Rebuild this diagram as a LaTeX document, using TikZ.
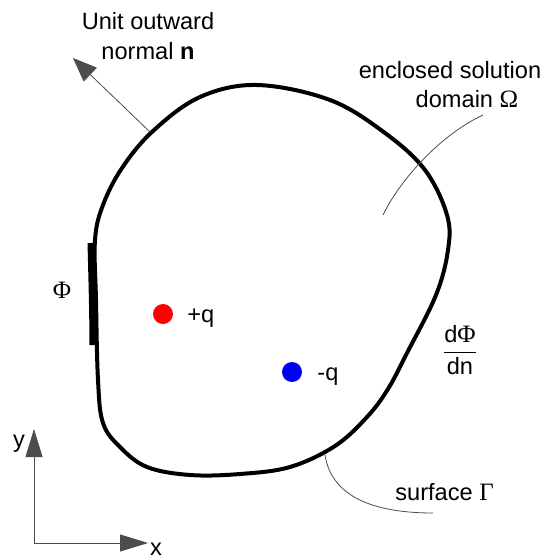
\documentclass[tikz,border=0pt]{standalone}
\usepackage{fontspec}
\setmainfont{Liberation Sans}
\newfontfamily\grkfont{Liberation Serif}
\usetikzlibrary{arrows.meta}

\newcommand\grk[1]{{\grkfont\fontsize{12.5}{15}\selectfont #1}}

\begin{document}
\begin{tikzpicture}[x=0.5pt,y=-0.5pt,
  lbl/.style={font=\fontsize{11.8}{15}\selectfont,inner sep=0pt},
  leader/.style={draw=black!70,line width=0.4pt},
  boundary/.style={line width=2pt},
  charge/.style={circle,inner sep=0pt,minimum size=10pt}]
  \useasboundingbox (0,0) rectangle (547,558);
  % surface of the domain
  \draw[boundary] plot[smooth cycle,tension=0.6] coordinates {
    (95,240) (103,205) (122,168) (153,131) (200,97) (257,85) (330,100)
    (385,133) (425,170) (447,215) (448,250) (436,295) (407,353) (388,389)
    (367,417) (335,446) (290,467) (240,474) (190,475) (147,467) (120,447)
    (103,423) (98,380) (96,300)};
  \draw[line width=3.5pt] (91,243) .. controls (92,280) and (93,320) .. (93,345);
  % normal
  \coordinate (nbase) at (150,132);
  \coordinate (ntip) at (73,58);
  \draw[leader,-{Triangle[length=12pt,width=9.5pt]}] (nbase) -- (ntip);
  \node[lbl,align=center] (normal) at (148,36) {Unit outward\\normal \textbf{n}};
  % domain label
  \node[lbl,anchor=base] (encl) at (450,78) {enclosed solution};
  \node[lbl,anchor=base] (dom) at (467,107) {domain \grk{Ω}};
  \coordinate (oa) at (483,115);
  \coordinate (ob) at (383,215);
  \draw[leader] (oa) .. controls (440,135) and (400,180) .. (ob);
  % surface label
  \node[lbl,anchor=base west] (surf) at (395,500) {surface \grk{Γ}};
  \coordinate (sa) at (325,455);
  \coordinate (sb) at (433,513);
  \draw[leader] (sa) .. controls (332,500) and (380,513) .. (sb);
  % boundary values
  \node[lbl] (phi) at (62,290) {\grk{Φ}};
  \node[lbl] (dphi) at (460,350) {$\displaystyle\frac{\mbox{d\grk{Φ}}}{\mbox{dn}}$};
  % charges
  \node[charge,fill=red] (pq) at (163,314) {};
  \node[lbl,anchor=base west] (pql) at (187,322) {+q};
  \node[charge,fill=blue] (mq) at (292,372) {};
  \node[lbl,anchor=base west] (mql) at (317,380) {-q};
  % axes
  \coordinate (o) at (34,543);
  \coordinate (yt) at (34,429);
  \coordinate (xt) at (148,543);
  \draw[leader,-{Triangle[length=14pt,width=8.5pt]}] (o) -- (yt);
  \draw[leader,-{Triangle[length=14pt,width=8.5pt]}] (o) -- (xt);
  \node[lbl,anchor=base] (yl) at (19,447) {y};
  \node[lbl,anchor=base] (xl) at (156,555) {x};
\end{tikzpicture}
\end{document}
